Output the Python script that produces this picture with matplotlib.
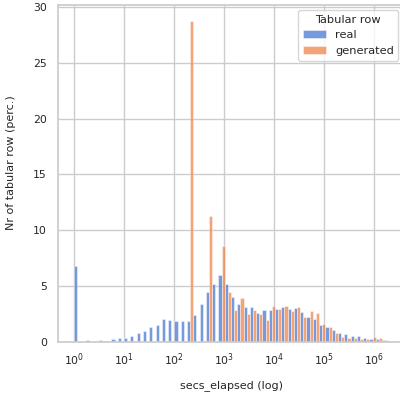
import numpy as np
import matplotlib
matplotlib.use("Agg")
import matplotlib.pyplot as plt
import seaborn as sns

# percent of rows per log-spaced bin of secs_elapsed (50 bins, 10^0 .. 10^6.28)
log_min, log_max = 0.0, 6.28
real = [6.75, 0.0, 0.12, 0.0, 0.10, 0.05, 0.22, 0.31, 0.34, 0.47,
        0.78, 0.95, 1.31, 1.51, 2.03, 1.94, 1.83, 1.84, 1.84, 2.41,
        3.37, 4.48, 5.17, 5.98, 5.17, 3.97, 3.40, 3.10, 3.10, 2.54,
        2.83, 2.83, 2.95, 3.07, 2.95, 3.01, 2.65, 2.20, 2.02, 1.48,
        1.27, 1.03, 0.76, 0.67, 0.49, 0.49, 0.34, 0.22, 0.22, 0.16]
generated = [0.0, 0.0, 0.0, 0.0, 0.0, 0.0, 0.0, 0.0, 0.0, 0.0,
             0.0, 0.0, 0.0, 0.0, 0.0, 0.0, 0.0, 0.0, 28.8, 0.0,
             0.0, 11.25, 0.0, 8.55, 4.42, 2.83, 3.94, 2.50, 2.83, 2.45,
             1.93, 3.19, 2.95, 3.16, 2.74, 3.13, 2.17, 2.71, 2.54, 1.57,
             1.30, 0.74, 0.43, 0.34, 0.34, 0.25, 0.22, 0.43, 0.31, 0.13]
labels = ["real", "generated"]
x_decades = [0, 1, 2, 3, 4, 5, 6]
y_ticks = [0, 5, 10, 15, 20, 25, 30]

sns.set_theme(style="whitegrid", palette="muted")
plt.rcParams['font.family'] = ['DejaVu Sans']
colors = sns.color_palette("muted", 2)

fig = plt.figure(figsize=(4.0, 3.96), dpi=100)
ax = fig.add_axes([0.145, 0.1376, 0.865, 0.851])

n = len(real)
edges = np.linspace(log_min, log_max, n + 1)
lo, hi = edges[:-1], edges[1:]
mid = (lo + hi) / 2

ax.bar(10 ** lo, real, width=10 ** mid - 10 ** lo, align="edge",
       color=colors[0], alpha=0.75, edgecolor="white", linewidth=0.4,
       label=labels[0])
ax.bar(10 ** mid, generated, width=10 ** hi - 10 ** mid, align="edge",
       color=colors[1], alpha=0.75, edgecolor="white", linewidth=0.4,
       label=labels[1])

ax.set_xscale("log")
span = log_max - log_min
ax.set_xlim(10 ** (log_min - 0.05 * span), 10 ** (log_max + 0.05 * span))
ax.set_xticks([10.0 ** d for d in x_decades],
              [f"$\\mathdefault{{10^{{{d}}}}}$" for d in x_decades])
ax.set_ylim(0, max(max(real), max(generated)) * 1.05)
ax.set_yticks(y_ticks)
ax.minorticks_off()
ax.tick_params(axis="x", labelsize=7.8, length=0, pad=7)
ax.tick_params(axis="y", labelsize=7.8, length=0, pad=8)

ax.set_xlabel("secs_elapsed (log)", fontsize=8, labelpad=9)
ax.set_ylabel("Nr of tabular row (perc.)", fontsize=8)
ax.yaxis.set_label_coords(-0.121, 0.531)

leg = ax.legend(title="Tabular row", loc="upper right", fontsize=8.2,
                title_fontsize=8.2)

fig.savefig("out.png", dpi=100)
